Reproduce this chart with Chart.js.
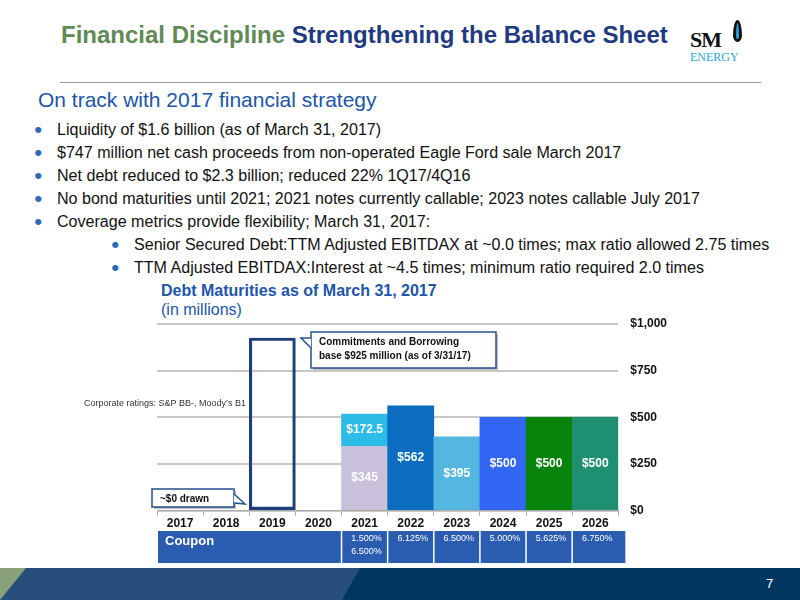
<!DOCTYPE html>
<html><head><meta charset="utf-8">
<script src="https://cdn.jsdelivr.net/npm/chart.js@4/dist/chart.umd.min.js"></script>
<style>
body{margin:0;width:800px;height:600px;position:relative;background:#fff;font-family:"Liberation Sans",Arial,sans-serif;overflow:hidden}
.a{position:absolute;white-space:nowrap}
.b{position:absolute;font-size:15.6px;color:#111;transform:scaleX(1.03);transform-origin:left}
.b:before{content:"•";position:absolute;left:-22px;top:-4px;color:#2a6ab8;font-size:22px}
</style></head><body>
<div class="a" style="left:61px;top:21px;font-size:24px;font-weight:bold;color:#5f8a55">Financial Discipline <span style="color:#1f3a80">Strengthening the Balance Sheet</span></div>
<div class="a" style="left:690px;top:27px;font-family:'Liberation Serif',serif;font-weight:bold;font-size:22px;color:#111;letter-spacing:-1px">SM</div>
<div class="a" style="left:733px;top:20px;width:9px;height:22px;border-radius:50% 50% 50% 50%/70% 70% 30% 30%;border:3px solid #111;background:#2aa0d8;box-sizing:border-box"></div>
<div class="a" style="left:690px;top:50px;font-family:'Liberation Serif',serif;font-size:12px;color:#27a8d8">ENERGY</div>
<div class="a" style="left:60px;top:82px;width:701px;height:1px;background:#8aa08a"></div>
<div class="a" style="left:38px;top:88px;font-size:21px;color:#2055a8">On track with 2017 financial strategy</div>
<div class="b" style="left:57px;top:121px">Liquidity of $1.6 billion (as of March 31, 2017)</div>
<div class="b" style="left:57px;top:144px">$747 million net cash proceeds from non-operated Eagle Ford sale March 2017</div>
<div class="b" style="left:57px;top:167px">Net debt reduced to $2.3 billion; reduced 22% 1Q17/4Q16</div>
<div class="b" style="left:57px;top:190px">No bond maturities until 2021; 2021 notes currently callable; 2023 notes callable July 2017</div>
<div class="b" style="left:57px;top:213px">Coverage metrics provide flexibility; March 31, 2017:</div>
<div class="b" style="left:134px;top:236px">Senior Secured Debt:TTM Adjusted EBITDAX at ~0.0 times; max ratio allowed 2.75 times</div>
<div class="b" style="left:134px;top:259px">TTM Adjusted EBITDAX:Interest at ~4.5 times; minimum ratio required 2.0 times</div>
<div class="a" style="left:161px;top:282px;font-size:16px;font-weight:bold;color:#2055a8">Debt Maturities as of March 31, 2017</div>
<div class="a" style="left:161px;top:301px;font-size:16px;color:#2055a8">(in millions)</div>
<div class="a" style="left:0;top:568px;width:800px;height:32px;background:#003760"></div>
<div class="a" style="left:0;top:568px;width:360px;height:32px;background:#284f7c;clip-path:polygon(0 0,100% 0,95% 100%,0 100%)"></div>
<div class="a" style="left:0;top:568px;width:26px;height:32px;background:#8aa078;clip-path:polygon(0 0,100% 0,0 100%)"></div>
<div class="a" style="left:766px;top:576px;font-size:13px;color:#fff">7</div>
<div class="a" style="left:0;top:0;width:800px;height:600px"><canvas id="c" width="800" height="600"></canvas></div>
<script>
const years=['2017','2018','2019','2020','2021','2022','2023','2024','2025','2026'];
const revolver=[null,null,925,null,null,null,null,null,null,null];
const notes=[null,null,null,null,345,562,395,500,500,500];
const converts=[null,null,null,null,172.5,null,null,null,null,null];
const noteColors=['#ccc','#ccc','#ccc','#ccc','#c9c0dc','#0a6dbf','#55b6e0','#3366f5','#05830a','#1f8f72'];
const yTicks=[0,250,500,750,1000];
const coupons=['','','','','1.500%\n6.500%','6.125%','6.500%','5.000%','5.625%','6.750%'];
const extra={id:'extra',afterDraw(ch){
 const c=ch.ctx,x=ch.scales.x,y=ch.scales.y;
 c.save();
 c.font='bold 12px "Liberation Sans"';c.fillStyle='#fff';c.textAlign='center';c.textBaseline='middle';
 ch.data.datasets.forEach((d,di)=>{if(di==0)return;ch.getDatasetMeta(di).data.forEach((el,i)=>{const v=d.data[i];if(v==null)return;
  c.fillText('$'+v,el.x,(el.y+el.base)/2);});});
 const top=531,h=32,half=(x.getPixelForValue(1)-x.getPixelForValue(0))/2;
 c.fillStyle='#2a5cb0';c.fillRect(x.left+1,top,x.right-x.left+6,h);
 c.strokeStyle='#fff';c.lineWidth=1.5;
 for(let i=4;i<=9;i++){const px=x.getPixelForValue(i)-half;c.beginPath();c.moveTo(px,top);c.lineTo(px,top+h);c.stroke();}
 c.fillStyle='#fff';c.font='bold 13px "Liberation Sans"';c.textAlign='left';c.fillText('Coupon',x.left+8,top+10);
 c.font='9px "Liberation Sans"';c.textAlign='center';
 coupons.forEach((t,i)=>{if(!t)return;t.split('\n').forEach((s,k)=>c.fillText(s,x.getPixelForValue(i)+2,top+8+k*13));});
 c.fillStyle='#333';c.font='9px "Liberation Sans"';c.textAlign='left';c.fillText("Corporate ratings: S&P BB-, Moody’s B1",84,404);
 function box(x0,y0,w,hh,lines,tx,ty){c.fillStyle='rgba(0,0,0,0.25)';c.fillRect(x0+2,y0+2,w,hh);c.fillStyle='#fff';c.strokeStyle='#24528a';c.lineWidth=1.5;
  c.beginPath();c.rect(x0,y0,w,hh);c.fill();c.stroke();
  c.beginPath();c.moveTo(tx[0],tx[1]);c.lineTo(ty[0],ty[1]);c.lineTo(ty[2],ty[3]);c.fill();c.stroke();
  c.fillStyle='#111';c.font='bold 10px "Liberation Sans"';c.textAlign='left';lines.forEach((s,k)=>c.fillText(s,x0+8,y0+10+k*14));}
 box(311,332,185,36,['Commitments and Borrowing','base $925 million (as of 3/31/17)'],[311,338],[301,338,311,348]);
 box(152,489,82,18,['~$0 drawn'],[234,494],[245,504,234,503]);
 c.restore();}};
new Chart(document.getElementById('c'),{type:'bar',
 data:{labels:years,datasets:[
  {data:revolver,backgroundColor:'rgba(0,0,0,0)',borderColor:'#1f3f7a',borderWidth:2.5,borderSkipped:false,stack:'s'},
  {data:notes,backgroundColor:noteColors,stack:'s'},
  {data:converts,backgroundColor:'#2bbde8',stack:'s'}]},
 options:{responsive:false,animation:false,devicePixelRatio:1,
  layout:{padding:{left:157,top:324,right:121,bottom:68}},
  plugins:{legend:{display:false},tooltip:{enabled:false}},
  datasets:{bar:{categoryPercentage:1,barPercentage:1}},
  scales:{
   x:{stacked:true,grid:{display:true,drawOnChartArea:false,tickLength:5,color:'#aaa',offset:true},border:{color:'#aaa'},ticks:{font:{weight:'bold',size:12,family:'Liberation Sans'},color:'#111',padding:1}},
   y:{stacked:true,position:'right',min:0,max:1000,afterBuildTicks:a=>{a.ticks=yTicks.map(v=>({value:v}));},
    grid:{color:'#c8c8c8',lineWidth:2,drawTicks:false},border:{display:false},
    ticks:{padding:12,font:{weight:'bold',size:12,family:'Liberation Sans'},color:'#111',callback:v=>'$'+v.toLocaleString('en-US')}}}},
 plugins:[extra]});
</script></body></html>
